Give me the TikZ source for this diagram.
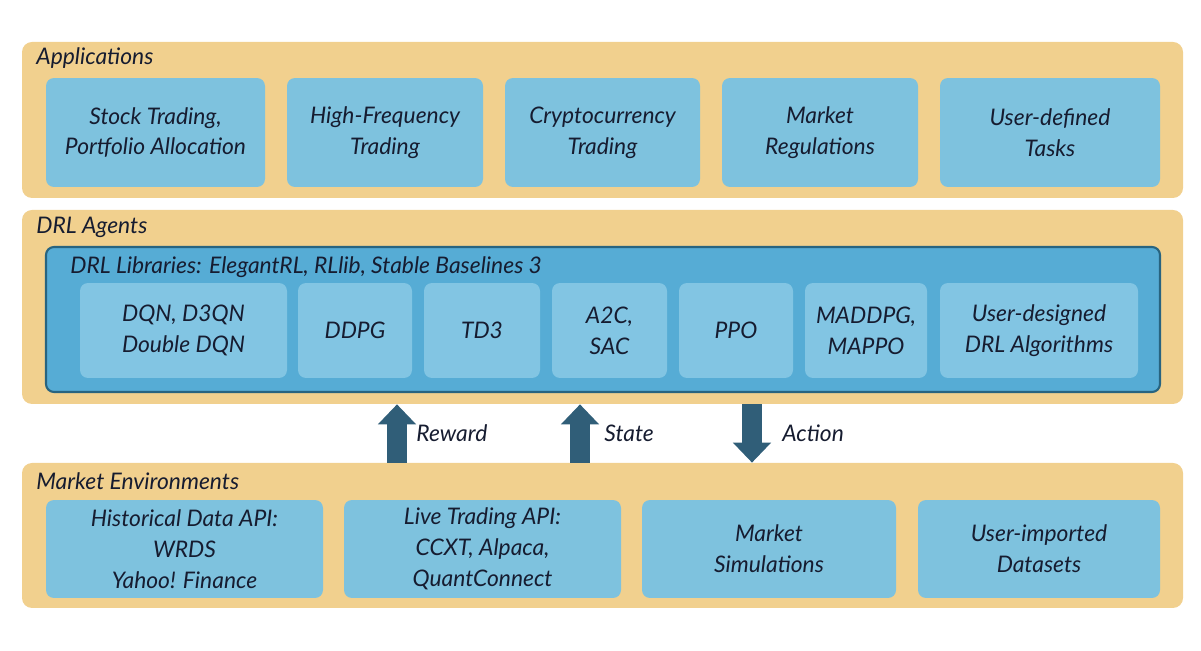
\documentclass[tikz,border=0pt]{standalone}
\usepackage{fontspec}
\setmainfont{Lato}
\usetikzlibrary{fit,arrows.meta}
\definecolor{layertan}{RGB}{241,208,142}
\definecolor{boxblue}{RGB}{126,194,222}
\definecolor{libblue}{RGB}{86,172,213}
\definecolor{libedge}{RGB}{40,100,128}
\definecolor{algblue}{RGB}{130,197,227}
\definecolor{arrowteal}{RGB}{48,94,120}
\definecolor{inkblue}{RGB}{22,28,48}

\begin{document}
\begin{tikzpicture}[x=0.02cm, y=-0.02cm,
  txt/.style={text=inkblue, font=\itshape\fontsize{13}{17.6}\selectfont},
  layer/.style={fill=layertan, rounded corners=0.2cm, inner sep=0pt},
  taskbox/.style={txt, fill=boxblue, rounded corners=0.16cm, inner sep=0pt, align=center},
  libbox/.style={fill=libblue, draw=libedge, line width=1.2pt, rounded corners=0.16cm, inner sep=0pt},
  algbox/.style={txt, fill=algblue, rounded corners=0.16cm, inner sep=0pt, align=center},
  flow/.style={arrowteal, line width=0.4cm, -{Triangle[width=0.74cm,length=0.4cm]}}]
\useasboundingbox (0,0) rectangle (1201,651);

% Layers
\node[layer, fit={(22,42) (1183,198)}] (apps) {};
\node[layer, fit={(22,210) (1183,404)}] (agents) {};
\node[layer, fit={(22,463) (1183,608)}] (env) {};
\node[txt, anchor=west, inner sep=0pt] (appsl) at (36,58) {Applications};
\node[txt, anchor=west, inner sep=0pt] (agentsl) at (36,227) {DRL Agents};
\node[txt, anchor=west, inner sep=0pt] (envl) at (36,481) {Market Environments};

% Applications
\foreach \xa/\xb/\nm/\lbl in {46/265/stock/{Stock Trading,\\Portfolio Allocation},
    287/483/hft/{High-Frequency\\Trading}, 505/700/crypto/{Cryptocurrency\\Trading},
    722/918/regul/{Market\\Regulations}, 940/1160/usertask/{User-defined\\Tasks}} {
  \node[taskbox, minimum width={(\xb-\xa)*0.02cm}, minimum height=2.18cm]
    (\nm) at ({(\xa+\xb)/2},132.5) {\lbl};
}

% DRL libraries and algorithms
\node[libbox, fit={(46,247) (1160,392)}] (libs) {};
\node[txt, anchor=west, inner sep=0pt] (libsl) at (70,267) {DRL Libraries: ElegantRL, RLlib, Stable Baselines 3};
\foreach \xa/\xb/\nm/\lbl in {80/287/dqn/{DQN, D3QN\\Double DQN}, 298/412/ddpg/DDPG,
    424/540/tdthree/TD3, 552/667/actor/{A2C,\\SAC}, 679/793/ppo/PPO,
    805/927/multi/{MADDPG,\\MAPPO}, 940/1138/useralg/{User-designed\\DRL Algorithms}} {
  \node[algbox, minimum width={(\xb-\xa)*0.02cm}, minimum height=1.9cm]
    (\nm) at ({(\xa+\xb)/2},330.5) {\lbl};
}

% Environments
\foreach \xa/\xb/\nm/\lbl in {46/323/hist/{Historical Data API:\\WRDS\\Yahoo! Finance},
    344/621/live/{Live Trading API:\\CCXT, Alpaca,\\QuantConnect},
    642/896/sim/{Market\\Simulations}, 918/1160/userdata/{User-imported\\Datasets}} {
  \node[taskbox, minimum width={(\xb-\xa)*0.02cm}, minimum height=1.96cm]
    (\nm) at ({(\xa+\xb)/2},549) {\lbl};
}

% Reward, state, action
\coordinate (rw) at (397,433);
\coordinate (st) at (580,433);
\coordinate (ac) at (752,433);
\draw[flow] (rw |- env.north) -- (rw |- agents.south);
\draw[flow] (st |- env.north) -- (st |- agents.south);
\draw[flow] (ac |- agents.south) -- (ac |- env.north);
\node[txt, anchor=west, inner sep=0pt] (rwl) at (416,433) {Reward};
\node[txt, anchor=west, inner sep=0pt] (stl) at (604,433) {State};
\node[txt, anchor=west, inner sep=0pt] (acl) at (782,433) {Action};
\end{tikzpicture}
\end{document}
